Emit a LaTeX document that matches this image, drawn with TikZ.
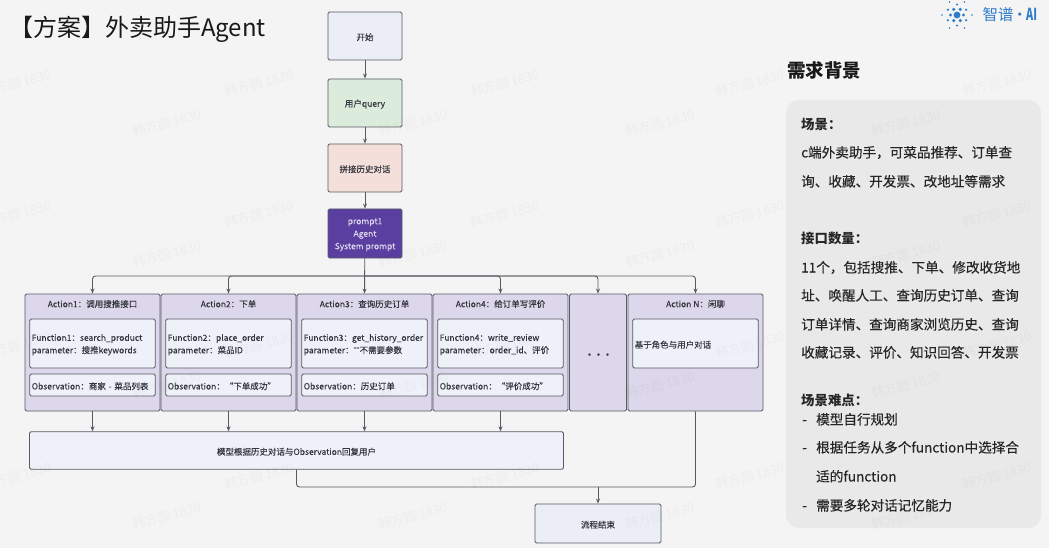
\documentclass[tikz,border=0pt]{standalone}
\usepackage{fontspec}
\usepackage{graphicx}
\setmainfont{Noto Sans CJK SC}
\newfontfamily\latinf{Liberation Sans}
\usetikzlibrary{arrows.meta,calc}
\definecolor{bgc}{HTML}{F4F4F4}
\definecolor{panelc}{HTML}{E9E9E9}
\definecolor{edgec}{HTML}{565A62}
\definecolor{ink}{HTML}{33363C}
\definecolor{startc}{HTML}{EBEEF7}
\definecolor{greenc}{HTML}{DBEBDC}
\definecolor{pinkc}{HTML}{F4DFDB}
\definecolor{purplec}{HTML}{5B3FA0}
\definecolor{actc}{HTML}{DDD7EC}
\definecolor{innerc}{HTML}{EFF1F8}
\definecolor{bluec}{HTML}{2F7CCB}
\newcommand{\lift}[1]{\raisebox{-1.2pt}[\height][\depth]{#1}}
\tikzset{
 x=1pt,y=-1pt,
 boxbase/.style={draw=edgec,line width=0.9pt,rounded corners=1.5pt,inner sep=0pt,text=ink,font=\fontsize{8.5}{12.5}\selectfont\addfontfeature{FakeBold=0.12},align=center},
 topbox/.style={boxbase,minimum width=74pt,minimum height=48pt},
 actbox/.style={boxbase,fill=actc,minimum width=135pt,minimum height=117pt},
 fnbox/.style={boxbase,fill=innerc,minimum width=125.5pt,minimum height=49pt,text width=121.5pt,align=left},
 obbox/.style={boxbase,fill=innerc,minimum width=125.5pt,minimum height=22pt,text width=121.5pt,align=left},
 acttitle/.style={text=ink,font=\fontsize{8.5}{10}\selectfont\addfontfeature{FakeBold=0.12},inner sep=0pt},
 conn/.style={draw=edgec,line width=0.9pt,rounded corners=3pt,-{Stealth[length=5pt,width=4pt]}},
 plainconn/.style={draw=edgec,line width=0.9pt,rounded corners=3pt},
 paneltext/.style={anchor=mid west,inner sep=0pt,yshift=-2.8pt,text=black!85,font=\fontsize{13.6}{16}\selectfont\addfontfeature{FakeBold=0.3}},
 panelhead/.style={anchor=mid west,inner sep=0pt,yshift=-2.8pt,text=black!85,font=\fontsize{13.4}{16}\bfseries\selectfont},
 wmark/.style={text=black,opacity=0.03,rotate=15,inner sep=0pt,font=\fontsize{13}{15}\selectfont},
 logodot/.style={fill=bluec,draw=none},
}
\begin{document}
\begin{tikzpicture}
\useasboundingbox (0,0) rectangle (1049,548);
\fill[bgc] (0,0) rectangle (1049,548);
% title
\node[anchor=mid west,inner sep=0pt,text=black!90,font=\fontsize{24}{28}\selectfont] (title) at (9,34) {【方案】外卖助手Agent};
% logo
\fill[logodot] (957,15) circle (3.4pt);
\foreach \a in {0,60,...,300}{\fill[logodot] ($(957,15)+(\a:6.5)$) circle (1.7pt);}
\foreach \a in {30,90,...,330}{\fill[logodot] ($(957,15)+(\a:10.5)$) circle (1.2pt);}
\foreach \a in {0,60,...,300}{\fill[logodot] ($(957,15)+(\a:15)$) circle (0.9pt);}
\node[anchor=mid west,inner sep=0pt,text=bluec,font=\fontsize{15.5}{18}\selectfont] (logo) at (982.5,18) {智谱};
\node[anchor=mid west,inner sep=0pt,text=bluec,font=\fontsize{15.5}{18}\selectfont] (logodot) at (1012,18) {·};
\node[anchor=mid west,inner sep=0pt,text=bluec,font=\fontsize{15}{18}\bfseries\selectfont] (logoai) at (1026,18) {\scalebox{0.72}[1.1]{AI}};
% top flow
\node[topbox,fill=startc] (start) at (365,36) {\lift{开始}};
\node[topbox,fill=greenc] (query) at (365,103) {\lift{用户query}};
\node[topbox,fill=pinkc] (hist) at (365,168) {\lift{拼接历史对话}};
\node[topbox,fill=purplec,text=white!80!purplec,minimum height=49pt] (prompt) at (365,233.5) {\lift{prompt1}\\\lift{Agent}\\\lift{System prompt}};
\coordinate (bus) at (365,276);
% actions
\node[actbox] (a1) at (92.5,352.5) {};
\node[actbox] (a2) at (228.5,352.5) {};
\node[actbox] (a3) at (364.5,352.5) {};
\node[actbox] (a4) at (500.5,352.5) {};
\node[actbox,minimum width=57pt] (a5) at (598,352.5) {};
\node[actbox] (a6) at (695.5,352.5) {};
\node[acttitle] (t1) at (92.5,304) {Action1：调用搜推接口};
\node[acttitle] (t2) at (228.5,304) {Action2：下单};
\node[acttitle] (t3) at (364.5,304) {Action3：查询历史订单};
\node[acttitle] (t4) at (500.5,304) {Action4：给订单写评价};
\node[acttitle] (t6) at (695.5,304) {Action N：闲聊};
\node[fnbox] (f1) at (92.5,343.5) {\lift{Function1：search\_product}\\\lift{parameter：搜推keywords}};
\node[fnbox] (f2) at (228.5,343.5) {\lift{Function2：place\_order}\\\lift{parameter：菜品ID}};
\node[fnbox] (f3) at (364.5,343.5) {\lift{Function3：get\_history\_order}\\\lift{parameter：{\latinf ""}不需要参数}};
\node[fnbox] (f4) at (500.5,343.5) {\lift{Function4：write\_review}\\\lift{parameter：order\_id、评价}};
\node[fnbox] (f6) at (695.5,343.5) {\lift{基于角色与用户对话}};
\node[obbox] (o1) at (92.5,385) {\lift{Observation：商家 - 菜品列表}};
\node[obbox] (o2) at (228.5,385) {\lift{Observation：“下单成功”}};
\node[obbox] (o3) at (364.5,385) {\lift{Observation：历史订单}};
\node[obbox] (o4) at (500.5,385) {\lift{Observation：“评价成功”}};
\node[text=ink,font=\fontsize{9}{12}\bfseries\selectfont,inner sep=0pt] (dots) at (595,356) {\hbox to 20pt{·\hfil·\hfil·}};
% result
\node[boxbase,fill=innerc,minimum width=534pt,minimum height=37.5pt] (res) at (296.5,450.5) {\lift{模型根据历史对话与Observation回复用户}};
\node[boxbase,fill=startc,minimum width=126pt,minimum height=39pt] (end) at (598,523.5) {\lift{流程结束}};
\coordinate (joinr) at (695.5,487);
\coordinate (joinl) at (296.5,487);
\coordinate (joinm) at (598,487);
% connectors
\draw[conn] (start) -- (query);
\draw[conn] (query) -- (hist);
\draw[conn] (hist) -- (prompt);
\draw[conn] (prompt) -- (a3.north);
\foreach \t in {a1,a2,a4,a5,a6}{
  \draw[conn] (bus) -| (\t.north);
}
\draw[conn] (a1.south) -- (a1.south |- res.north);
\draw[conn] (a2.south) -- (a2.south |- res.north);
\draw[conn] (a3.south) -- (a3.south |- res.north);
\draw[conn] (a4.south) -- (a4.south |- res.north);
\draw[plainconn] (res.south) -- (joinl) -- (joinm);
\draw[plainconn] (a6.south) -- (joinr) -- (joinm);
\draw[conn] (joinm) -- (end.north);
% panel
\node[anchor=mid west,inner sep=0pt,text=black!90,font=\fontsize{18.5}{22}\bfseries\selectfont] (ptitle) at (787,75) {需求背景};
\fill[panelc] (786,100) [rounded corners=13pt] rectangle (1041,528);
\node[panelhead] (p1) at (801,124) {场景：};
\node[paneltext] (p2) at (801,152) {c端外卖助手，可菜品推荐、订单查};
\node[paneltext] (p3) at (801,181) {询、收藏、开发票、改地址等需求};
\node[panelhead] (p4) at (801,238) {接口数量：};
\node[paneltext] (p5) at (801,267) {11个，包括搜推、下单、修改收货地};
\node[paneltext] (p6) at (801,295) {址、唤醒人工、查询历史订单、查询};
\node[paneltext] (p7) at (801,324) {订单详情、查询商家浏览历史、查询};
\node[paneltext] (p8) at (801,352) {收藏记录、评价、知识回答、开发票};
\node[panelhead] (p9) at (801,400) {场景难点：};
\node[paneltext] (d1) at (802,419) {-};
\node[paneltext] (p10) at (816,419) {模型自行规划};
\node[paneltext] (d2) at (802,447) {-};
\node[paneltext] (p11) at (816,447) {根据任务从多个function中选择合};
\node[paneltext] (p12) at (816,476) {适的function};
\node[paneltext] (d3) at (802,505) {-};
\node[paneltext] (p13) at (816,505) {需要多轮对话记忆能力};
% watermarks lie over everything
\foreach \wx in {17,259,505,750,997}{
  \foreach \wy in {83,214,345,476}{
    \node[wmark] at (\wx,\wy) {韩方圆 1830};
  }
}
\foreach \wx in {167,413,660,906}{
  \foreach \wy in {123,254,385,516}{
    \node[wmark] at (\wx,\wy) {韩方圆 1830};
  }
}
\end{tikzpicture}
\end{document}
